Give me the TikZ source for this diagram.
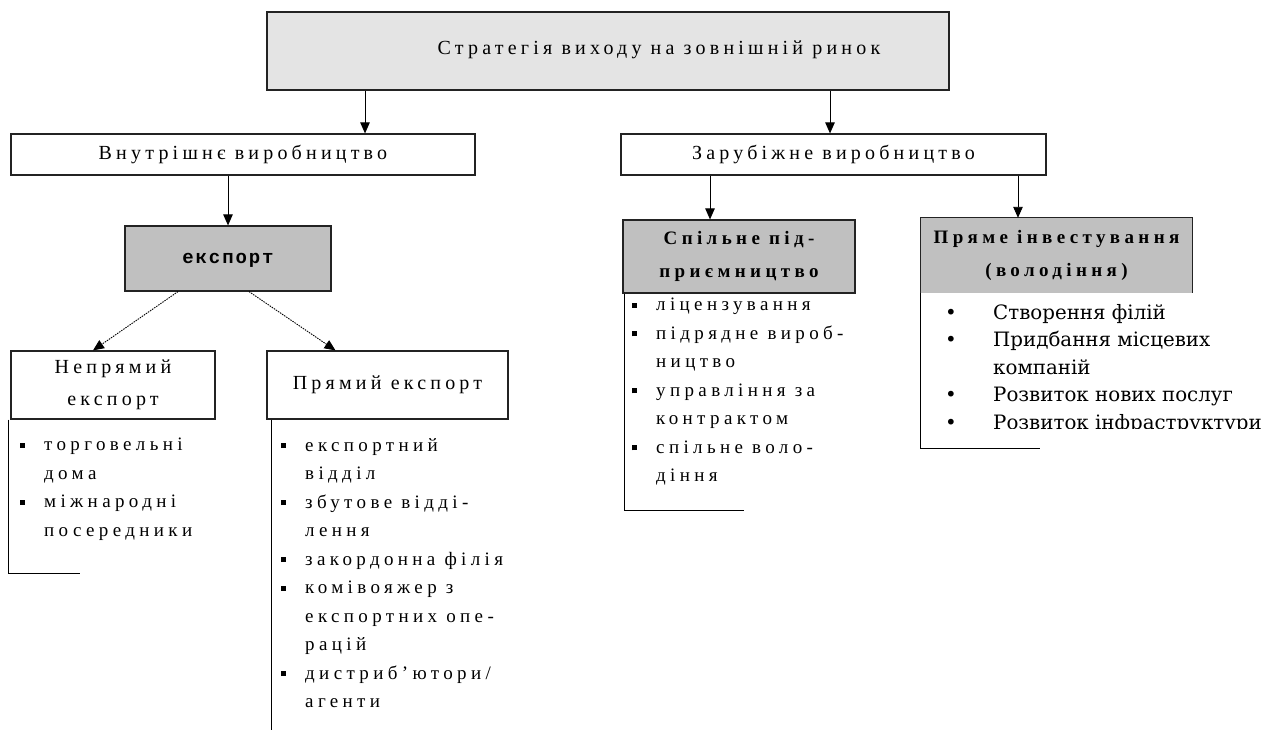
\documentclass[tikz,border=0pt]{standalone}
\usepackage{fontspec}
\usetikzlibrary{arrows.meta}
\setmainfont{Liberation Serif}
\newfontfamily\rawfont[LetterSpace=23]{Liberation Serif}
\newfontfamily\capfont[LetterSpace=21]{Liberation Serif}
\newfontfamily\rawmono[LetterSpace=10]{Liberation Mono}
\newfontfamily\listfont{DejaVu Serif}
\definecolor{boxL}{RGB}{228,228,228}
\definecolor{boxD}{RGB}{192,192,192}
\definecolor{edge}{RGB}{35,35,35}
\newcommand{\bul}{\makebox[24pt][l]{\rule[3pt]{5pt}{5pt}}}
\newcommand{\ind}{\hspace*{24pt}}
\newcommand{\rdot}{\makebox[48pt][l]{•}}
\newcommand{\dind}{\hspace*{48pt}}

\begin{document}
\begin{tikzpicture}[x=1pt, y=-1pt,
    frame/.style={draw=edge, line width=1.2pt, inner sep=0pt},
    lite/.style={frame, fill=boxL, line width=2pt},
    dark/.style={frame, fill=boxD},
    plain/.style={frame, fill=white},
    raw/.style={font=\capfont\fontsize{20}{32}\selectfont},
    head/.style={font=\rawfont\bfseries\fontsize{19}{33}\selectfont},
    items/.style={font=\rawfont\fontsize{19}{28.5}\selectfont, align=left,
      inner sep=0pt, anchor=north west},
    ditems/.style={font=\listfont\fontsize{19.8}{27.5}\selectfont, align=left,
      inner sep=0pt, anchor=north west},
    arr/.style={draw=black, line width=0.9pt, -{Triangle[length=11pt,width=9.5pt]}},
    darr/.style={arr, dash pattern=on 1.5pt off 1pt},
    rail/.style={draw=black, line width=1pt},
  ]
  \useasboundingbox (0,0) rectangle (1280,729);

  %% ================= top level =================
  \node[lite, minimum width=682pt, minimum height=78pt] (top) at (608,51) {};
  \node[raw] (toptxt) at (659,50) {Стратегія виходу на зовнішній ринок};

  \node[plain, raw, minimum width=464pt, minimum height=41pt] (vnut) at (243,154.5)
    {Внутрішнє виробництво};
  \node[plain, raw, minimum width=425pt, minimum height=41pt] (zarub) at (833.5,154.5)
    {Зарубіжне виробництво};

  \coordinate (la) at (365,0);
  \coordinate (ra) at (830,0);
  \draw[arr] (top.south -| la) -- (vnut.north -| la);
  \draw[arr] (top.south -| ra) -- (zarub.north -| ra);

  %% ================= left branch: export =================
  \node[dark, minimum width=206pt, minimum height=65pt, text depth=-2pt,
    font=\rawmono\bfseries\fontsize{19}{22}\selectfont] (eksp) at (228,258.5) {експорт};
  \draw[arr] (vnut.south -| eksp.north) -- (eksp.north);

  \node[plain, raw, align=center, minimum width=204pt, minimum height=68pt] (nep) at (113,385)
    {Непрямий\\експорт};
  \node[plain, raw, minimum width=241pt, minimum height=68pt] (pexp) at (387.5,385)
    {Прямий експорт};
  \draw[darr] ([xshift=-50pt]eksp.south) -- ([xshift=-20pt]nep.north);
  \draw[darr] ([xshift=21pt]eksp.south) -- ([xshift=-52pt]pexp.north);

  \draw[rail] ([xshift=-2pt]nep.south west) -- ++(0,154) -- ++(72,0);
  \node[items] (nepL) at (20,438)
    {\bul торговельні\\ \ind дома\\ \bul міжнародні\\ \ind посередники};

  \draw[rail] ([xshift=5pt]pexp.south west) -- ++(0,312);
  \node[items] (pexpL) at (281,438)
    {\bul експортний\\ \ind відділ\\ \bul збутове відді-\\ \ind лення\\
     \bul закордонна філія\\ \bul комівояжер з\\ \ind експортних опе-\\ \ind рацій\\
     \bul дистриб’ютори/\\ \ind агенти};

  %% ================= right branch: production abroad =================
  \node[dark, head, align=center, minimum width=232pt, minimum height=73pt] (spil) at (739,256.5)
    {Спільне під-\\приємництво};
  \node[fill=boxD, head, align=center, inner sep=0pt, minimum width=271pt,
    minimum height=75pt] (pinv) at (1056.5,255.5) {Пряме інвестування\\(володіння)};
  \draw[frame] (pinv.south west) -- (pinv.north west) -- (pinv.north east) -- (pinv.south east);

  \coordinate (sa) at (710,0);
  \coordinate (pa) at (1018,0);
  \draw[arr] (zarub.south -| sa) -- (spil.north -| sa);
  \draw[arr] (zarub.south -| pa) -- (pinv.north -| pa);

  \draw[rail] ([xshift=2pt]spil.south west) -- ++(0,217) -- ++(120,0);
  \node[items] (spilL) at (632,298)
    {\bul ліцензування\\ \bul підрядне вироб-\\ \ind ництво\\ \bul управління за\\
     \ind контрактом\\ \bul спільне воло-\\ \ind діння};

  \draw[rail] (pinv.south west) -- ++(0,155) -- ++(119,0);
  \begin{scope}
    \clip (900,294) rectangle (1280,428);
    \node[ditems] (pinvL) at (945,304)
      {\rdot Створення філій\\ \rdot Придбання місцевих\\ \dind компаній\\
       \rdot Розвиток нових послуг\\ \rdot Розвиток інфраструктури};
  \end{scope}
\end{tikzpicture}
\end{document}
